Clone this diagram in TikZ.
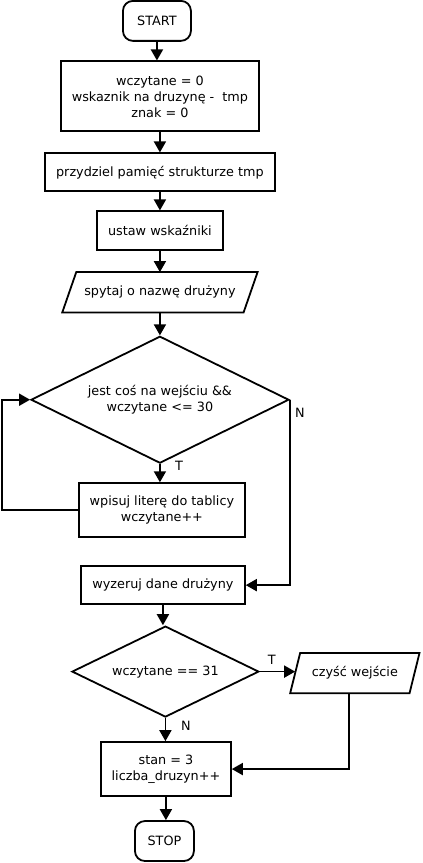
\documentclass[tikz,border=0pt]{standalone}
\usepackage{fontspec}
\setmainfont{DejaVu Sans}
\usetikzlibrary{arrows.meta,shapes.geometric}
\begin{document}
\begin{tikzpicture}[x=1pt,y=-1pt,
  every node/.style={font=\fontsize{12.8}{16}\selectfont, align=center, inner sep=0pt},
  ln/.style={line width=1.8pt},
  proc/.style={draw, ln, minimum width=#1},
  term/.style={draw, ln, rounded corners=10pt, minimum width=#1, minimum height=40},
  dec/.style={draw, ln, diamond, inner sep=0pt, shape aspect=2},
  io/.style={minimum width=#1, minimum height=40},
  arr/.style={ln, -{Triangle[length=11pt,width=12pt]}},
  lbl/.style={font=\fontsize{12.8}{16}\selectfont}]
\path[fill=white] (0,0) rectangle (423,863);
\node[term=68] (start) at (157,20.5) {START};
\node[proc=198, minimum height=70] (b1) at (160,96) {wczytane = 0\\wskaznik na druzynę - \ tmp\\znak = 0};
\node[proc=230, minimum height=38] (b2) at (160,172) {przydziel pamięć strukturze tmp};
\node[proc=126, minimum height=39] (b3) at (160,230.5) {ustaw wskaźniki};
\node[io=181] (p1) at (160,292) {spytaj o nazwę drużyny};
\draw[ln] ([xshift=7pt]p1.north west) -- ([xshift=7pt]p1.north east) -- ([xshift=-7pt]p1.south east) -- ([xshift=-7pt]p1.south west) -- cycle;
\node[dec, minimum width=258, minimum height=127] (d1) at (160,399.5) {jest coś na wejściu \&\&\\wczytane <= 30};
\node[proc=166, minimum height=54] (b4) at (162,510) {wpisuj literę do tablicy\\wczytane++};
\node[proc=164, minimum height=38] (b5) at (163,585) {wyzeruj dane drużyny};
\node[dec, minimum width=187, minimum height=91] (d2) at (165.5,671.5) {wczytane == 31};
\node[io=119] (p2) at (355,673) {czyść wejście};
\draw[ln] ([xshift=5pt]p2.north west) -- ([xshift=5pt]p2.north east) -- ([xshift=-5pt]p2.south east) -- ([xshift=-5pt]p2.south west) -- cycle;
\node[proc=130, minimum height=54] (b6) at (166,769) {stan = 3\\liczba\_druzyn++};
\node[term=59] (stop) at (164.5,841) {STOP};
\coordinate (loopL) at (2,510);
\coordinate (p2b) at ([xshift=-5.5pt]p2.south);
\draw[arr] (start.south) -- (start.south |- b1.north);
\draw[arr] (b1) -- (b2);
\draw[arr] (b2) -- (b3);
\draw[arr] (b3.south) -- (b3.south |- p1.north);
\draw[arr] (p1.south) -- (d1.north);
\draw[arr] (d1.south) -- (d1.south |- b4.north);
\draw[arr] (b4.west) -- (loopL) |- (d1.west);
\draw[arr] (d1.east) -- (d1.east |- b5.east) -- (b5.east);
\draw[arr] (b5.south) -- (b5.south |- d2.north);
\draw[arr] (d2.east) -- (d2.east -| p2.west);
\draw[arr] (d2.south) -- (d2.south |- b6.north);
\draw[arr] (p2b) |- (b6.east);
\draw[arr] (b6.south) -- (b6.south |- stop.north);
\node[lbl] (lN1) at (300,413) {N};
\node[lbl] (lT1) at (179,466) {T};
\node[lbl] (lT2) at (272,660) {T};
\node[lbl] (lN2) at (186,726) {N};
\end{tikzpicture}
\end{document}
